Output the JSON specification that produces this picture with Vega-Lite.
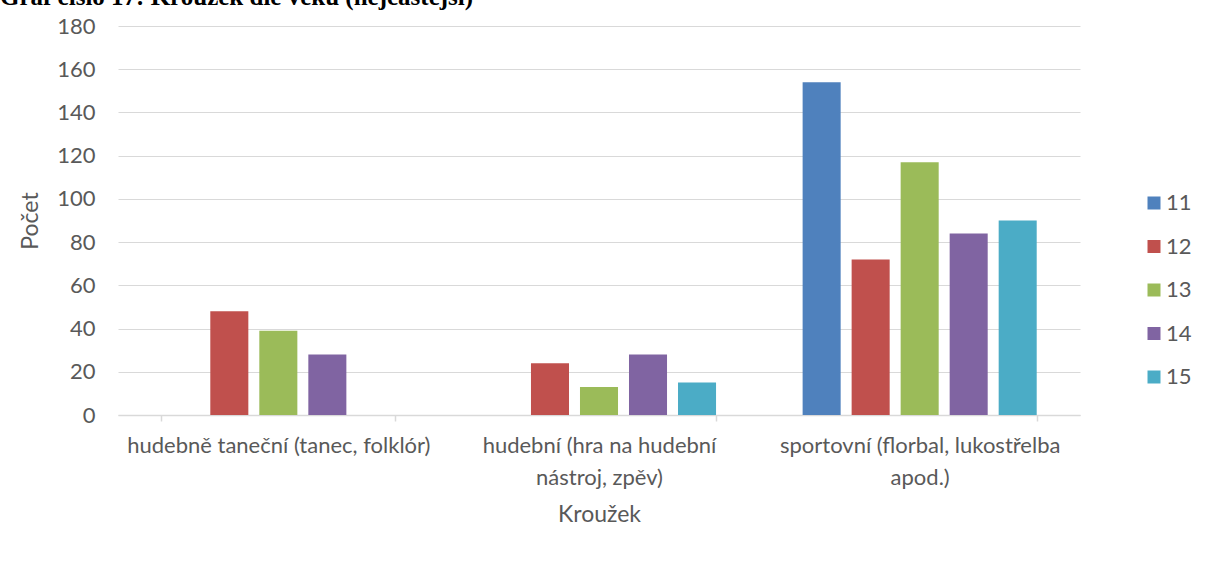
{
  "$schema": "https://vega.github.io/schema/vega-lite/v6.json",
  "width": 962,
  "height": 389,
  "autosize": {"type": "none"},
  "padding": {"left": 118, "top": 26, "right": 125, "bottom": 155},
  "background": "white",
  "title": {
    "text": "Graf číslo 17: Kroužek dle věku (nejčastější)",
    "anchor": "start",
    "frame": "group",
    "font": "Liberation Serif",
    "fontWeight": "bold",
    "fontSize": 25,
    "color": "#000000",
    "dx": -118,
    "dy": -5,
    "offset": 0
  },
  "data": {
    "values": [
      {"krouzek": "hudebně taneční (tanec, folklór)", "vek": "11", "pocet": 0},
      {"krouzek": "hudebně taneční (tanec, folklór)", "vek": "12", "pocet": 48},
      {"krouzek": "hudebně taneční (tanec, folklór)", "vek": "13", "pocet": 39},
      {"krouzek": "hudebně taneční (tanec, folklór)", "vek": "14", "pocet": 28},
      {"krouzek": "hudebně taneční (tanec, folklór)", "vek": "15", "pocet": 0},
      {"krouzek": "hudební (hra na hudební nástroj, zpěv)", "vek": "11", "pocet": 0},
      {"krouzek": "hudební (hra na hudební nástroj, zpěv)", "vek": "12", "pocet": 24},
      {"krouzek": "hudební (hra na hudební nástroj, zpěv)", "vek": "13", "pocet": 13},
      {"krouzek": "hudební (hra na hudební nástroj, zpěv)", "vek": "14", "pocet": 28},
      {"krouzek": "hudební (hra na hudební nástroj, zpěv)", "vek": "15", "pocet": 15},
      {"krouzek": "sportovní (florbal, lukostřelba apod.)", "vek": "11", "pocet": 154},
      {"krouzek": "sportovní (florbal, lukostřelba apod.)", "vek": "12", "pocet": 72},
      {"krouzek": "sportovní (florbal, lukostřelba apod.)", "vek": "13", "pocet": 117},
      {"krouzek": "sportovní (florbal, lukostřelba apod.)", "vek": "14", "pocet": 84},
      {"krouzek": "sportovní (florbal, lukostřelba apod.)", "vek": "15", "pocet": 90}
    ]
  },
  "mark": {"type": "bar"},
  "encoding": {
    "x": {
      "field": "krouzek",
      "type": "nominal",
      "sort": null,
      "scale": {"paddingInner": 0.27, "paddingOuter": 0.135},
      "axis": {
        "title": "Kroužek",
        "titleFont": "Lato",
        "titleFontSize": 23,
        "titleFontWeight": "normal",
        "titleColor": "#595959",
        "titlePadding": 15,
        "labelAngle": 0,
        "labelFont": "Lato",
        "labelFontSize": 22,
        "labelColor": "#595959",
        "labelPadding": 14,
        "labelLineHeight": 32,
        "labelLimit": 400,
        "labelExpr": "datum.label == 'hudební (hra na hudební nástroj, zpěv)' ? ['hudební (hra na hudební', 'nástroj, zpěv)'] : datum.label == 'sportovní (florbal, lukostřelba apod.)' ? ['sportovní (florbal, lukostřelba', 'apod.)'] : datum.label",
        "domainColor": "#d9d9d9",
        "domainWidth": 1.5,
        "tickColor": "#d9d9d9",
        "tickWidth": 1.5,
        "tickSize": 6,
        "tickBand": "extent",
        "grid": false
      }
    },
    "xOffset": {
      "field": "vek",
      "type": "nominal",
      "scale": {"paddingInner": 0.224, "paddingOuter": 0}
    },
    "y": {
      "field": "pocet",
      "type": "quantitative",
      "scale": {"domain": [0, 180]},
      "axis": {
        "title": "Počet",
        "titleFont": "Lato",
        "titleFontSize": 23,
        "titleFontWeight": "normal",
        "titleColor": "#595959",
        "titlePadding": 14,
        "values": [0, 20, 40, 60, 80, 100, 120, 140, 160, 180],
        "labelFont": "Lato",
        "labelFontSize": 22,
        "labelColor": "#595959",
        "labelPadding": 23,
        "domain": false,
        "ticks": false,
        "gridColor": "#d9d9d9",
        "gridWidth": 1
      }
    },
    "color": {
      "field": "vek",
      "type": "nominal",
      "scale": {
        "domain": ["11", "12", "13", "14", "15"],
        "range": ["#4F81BD", "#C0504D", "#9BBB59", "#8064A2", "#4BACC6"]
      },
      "legend": {
        "title": null,
        "orient": "none",
        "legendX": 1025,
        "legendY": 166,
        "symbolType": "square",
        "symbolSize": 169,
        "symbolStrokeWidth": 0,
        "labelFont": "Lato",
        "labelFontSize": 22,
        "labelColor": "#595959",
        "labelOffset": 1,
        "rowPadding": 21.5
      }
    }
  },
  "config": {
    "view": {"stroke": null}
  }
}
